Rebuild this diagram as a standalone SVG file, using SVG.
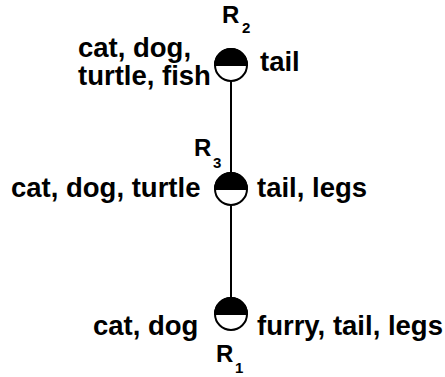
<svg xmlns="http://www.w3.org/2000/svg" width="445" height="377" viewBox="0 0 445 377">
<style>
text{font-family:"Liberation Sans",Arial,sans-serif;font-weight:bold;fill:#000}
.t{font-size:27.5px}
.r{font-size:24px}
.s{font-size:15px}
.wh{fill:#fff;stroke:#000;stroke-width:2}
.bk{fill:#000;stroke:#000;stroke-width:2}
</style>
<defs>
<g id="node">
<circle class="wh" cx="0" cy="0" r="16"/>
<path class="bk" d="M-16,0 A16,16 0 0 1 16,0 Z"/>
</g>
</defs>
<rect width="445" height="377" fill="#fff"/>
<g id="connectors">
<line x1="231" y1="80" x2="231" y2="298" stroke="#000" stroke-width="2"/>
</g>
<g id="R2">
<use href="#node" x="231" y="65"/>
<text class="r" x="222" y="23">R</text><text class="s" x="242" y="33">2</text>
<text class="t" x="78" y="57">cat, dog,</text>
<text class="t" x="78" y="85">turtle, fish</text>
<text class="t" x="260" y="71">tail</text>
</g>
<g id="R3">
<use href="#node" x="231" y="189"/>
<text class="r" x="194" y="156">R</text><text class="s" x="213" y="168">3</text>
<text class="t" x="11" y="197">cat, dog, turtle</text>
<text class="t" x="257" y="197">tail, legs</text>
</g>
<g id="R1">
<use href="#node" x="231" y="314"/>
<text class="r" x="216" y="362">R</text><text class="s" x="235" y="373">1</text>
<text class="t" x="93" y="335">cat, dog</text>
<text class="t" x="257" y="335">furry, tail, legs</text>
</g>
</svg>
